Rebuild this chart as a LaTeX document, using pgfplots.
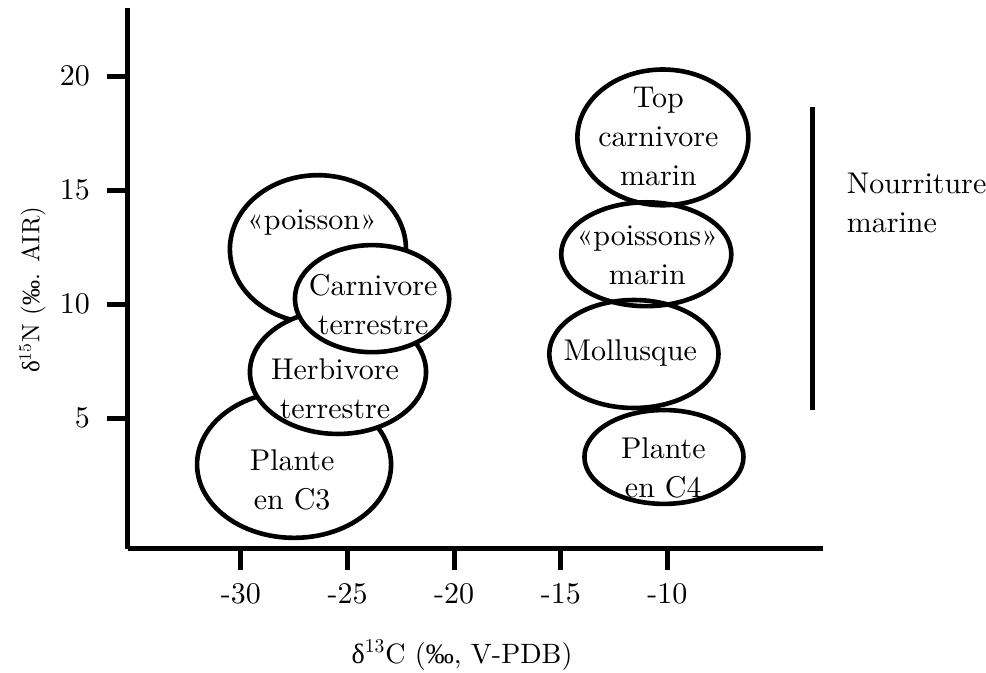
\documentclass[border=0pt]{standalone}
\usepackage{fontspec}
\setmainfont{lmroman10-regular.otf}
\usepackage{pgfplots}
\pgfplotsset{compat=1.18}
\newfontfamily\lib{Liberation Serif}
\begin{document}
\begin{tikzpicture}
\useasboundingbox (-64pt,-62pt) rectangle (429pt,274.5pt);
\begin{axis}[
  at={(0,0)}, anchor=south west,
  scale only axis, width=347.5pt, height=270.5pt,
  xmin=-35.3, xmax=-2.7, ymin=-0.75, ymax=23,
  axis x line*=bottom, axis y line*=left,
  axis line style={-, line width=2.5pt, black},
  xtick={-30,-25,-20,-15,-10}, xticklabels={-30,-25,-20,-15,-10},
  ytick={5,10,15,20}, yticklabels={5,10,15,20},
  tick align=outside, major tick length=10.5pt,
  tick style={line width=2.5pt, black},
  minor tick num=0,
  font=\fontsize{15}{19.5}\selectfont,
  ticklabel style={font=\fontsize{15}{19.5}\selectfont},
  xticklabel style={yshift=-3pt},
  yticklabel style={xshift=-5pt},
  xlabel={{\lib δ}\textsuperscript{13}C ({\lib ‰}, V-PDB)},
  ylabel={{\lib δ}\textsuperscript{15}N ({\lib ‰}. AIR)},
  xlabel style={at={(axis description cs:0.4806,-0.196)}, anchor=center, font=\fontsize{14}{17}\selectfont},
  ylabel style={at={(axis description cs:-0.1375,0.479)}, anchor=center, font=\fontsize{12.5}{15}\selectfont},
  clip=false,
]
% terrestrial (filled, overlapping)
\draw[line width=2.3pt, fill=white] (axis cs:-27.51,2.96) ellipse [x radius=4.55, y radius=3.22];
\draw[line width=2.3pt, fill=white] (axis cs:-26.39,12.41) ellipse [x radius=4.13, y radius=3.25];
\draw[line width=2.3pt, fill=white] (axis cs:-25.45,7.02) ellipse [x radius=4.13, y radius=2.72];
\draw[line width=2.3pt, fill=white] (axis cs:-23.85,10.24) ellipse [x radius=3.62, y radius=2.35];
% marine
\draw[line width=2.3pt] (axis cs:-10.21,17.32) ellipse [x radius=4.01, y radius=2.98];
\draw[line width=2.3pt] (axis cs:-10.99,12.19) ellipse [x radius=3.99, y radius=2.28];
\draw[line width=2.3pt] (axis cs:-11.57,7.81) ellipse [x radius=3.97, y radius=2.37];
\draw[line width=2.3pt] (axis cs:-10.16,3.29) ellipse [x radius=3.73, y radius=2.06];
% marine food bar
\addplot[line width=2.5pt, black, mark=none] coordinates {(-3.19,18.64) (-3.19,5.35)};
% labels
\node[align=center] at (axis cs:-26.67,13.6) {«poisson»};
\node[align=center] at (axis cs:-23.8,10.0) {Carnivore\\terrestre};
\node[align=center] at (axis cs:-25.59,6.27) {Herbivore\\terrestre};
\node[align=center] at (axis cs:-27.6,2.28) {Plante\\en C3};
\node[align=center] at (axis cs:-10.42,17.37) {Top\\carnivore\\marin};
\node[align=center] at (axis cs:-10.94,12.15) {«poissons»\\marin};
\node[align=center] at (axis cs:-11.74,7.85) {Mollusque};
\node[align=center] at (axis cs:-10.19,2.81) {Plante\\en C4};
\node[align=left, anchor=base west, inner sep=0pt] at (axis cs:-1.6,13.16) {Nourriture\\marine};
\end{axis}
\end{tikzpicture}
\end{document}
